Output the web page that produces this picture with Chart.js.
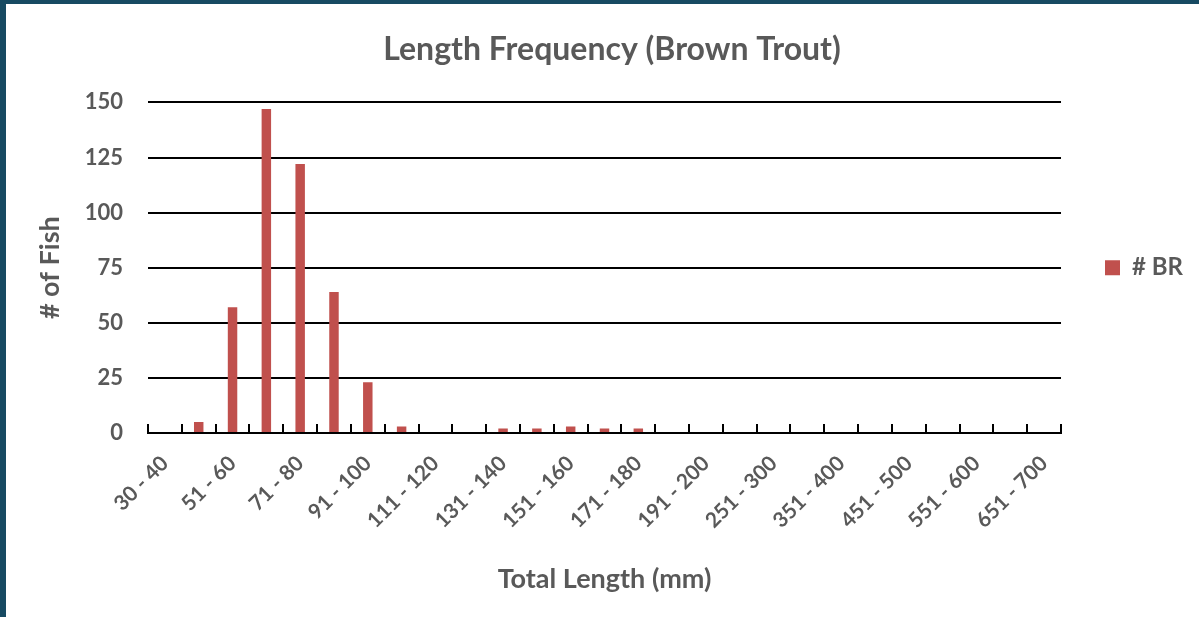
<!DOCTYPE html>
<html>
<head>
<meta charset="utf-8">
<script src="https://cdn.jsdelivr.net/npm/chart.js@4"></script>
<style>
  html, body { margin: 0; padding: 0; background: #174a62; }
  .frame { position: absolute; left: 6px; top: 4px; width: 1193px; height: 613px; background: #fff; }
</style>
</head>
<body>
<div class="frame"><canvas id="lengthChart" width="1193" height="613"></canvas></div>
<script>
// length classes (mm) and counts
const lengthClasses = ['30 - 40', '41 - 50', '51 - 60', '61 - 70', '71 - 80', '81 - 90', '91 - 100',
    '101 - 110', '111 - 120', '121 - 130', '131 - 140', '141 - 150', '151 - 160', '161 - 170',
    '171 - 180', '181 - 190', '191 - 200', '201 - 250', '251 - 300', '301 - 350', '351 - 400',
    '401 - 450', '451 - 500', '501 - 550', '551 - 600', '601 - 650', '651 - 700']
const brownTrout = [0, 5, 57, 147, 122, 64, 23, 3, 0, 0, 2, 2, 3, 2, 2, 0, 0, 0, 0, 0, 0, 0, 0, 0, 0, 0, 0]
const yTicks = [0, 25, 50, 75, 100, 125, 150]

const grey = '#595959'
const fontFam = 'Lato, "Open Sans", sans-serif'

// small tick marks above the x axis at each class boundary
const boundaryTicks = {
    id: 'boundaryTicks',
    afterDatasetsDraw(chart) {
        const x = chart.scales.x
        const ctx = chart.ctx
        const bottom = chart.chartArea.bottom
        const half = (x.getPixelForValue(1) - x.getPixelForValue(0)) / 2
        ctx.save()
        ctx.strokeStyle = '#000'
        ctx.lineWidth = 2
        for (let i = 0; i <= lengthClasses.length; i++) {
            const px = Math.round(x.getPixelForValue(i) - half)
            ctx.beginPath()
            ctx.moveTo(px, bottom - 9)
            ctx.lineTo(px, bottom)
            ctx.stroke()
        }
        ctx.restore()
    }
}

// legend centred on the plot next to it, title a bit right of centre like the original
const legendPlace = {
    id: 'legendPlace',
    afterLayout(chart) {
        const lg = chart.legend
        const w = lg.right - lg.left
        lg.top = chart.chartArea.top
        lg.bottom = chart.chartArea.bottom
        lg.left = 1089
        lg.right = lg.left + w

        const t = chart.titleBlock
        t.left = 0
        t.right = 1212
    }
}

new Chart(document.getElementById('lengthChart'), {
    type: 'bar',
    data: {
        labels: lengthClasses,
        datasets: [{
            label: '# BR',
            data: brownTrout,
            backgroundColor: '#c0504d',
            barPercentage: 0.28,
            categoryPercentage: 1
        }]
    },
    options: {
        responsive: false,
        animation: false,
        layout: { padding: { right: 40, left: 0, top: 0, bottom: 0 } },
        plugins: {
            title: {
                display: true,
                text: 'Length Frequency (Brown Trout)',
                color: grey,
                font: { family: fontFam, size: 32, weight: 'bold' },
                padding: { top: 26, bottom: 34 }
            },
            legend: {
                position: 'right',
                labels: {
                    color: grey,
                    boxWidth: 15,
                    boxHeight: 15,
                    padding: 10,
                    font: { family: fontFam, size: 24, weight: 'bold' }
                }
            },
            tooltip: { enabled: false }
        },
        scales: {
            x: {
                grid: { display: false },
                border: { display: true, color: '#000', width: 2 },
                ticks: {
                    autoSkip: false,
                    maxRotation: 45,
                    minRotation: 45,
                    color: grey,
                    padding: 10,
                    font: { family: fontFam, size: 21, weight: 'bold' },
                    callback: (v, i) => i % 2 === 0 ? lengthClasses[i] : ''
                },
                title: {
                    display: true,
                    text: 'Total Length (mm)',
                    color: grey,
                    font: { family: fontFam, size: 27, weight: 'bold' },
                    padding: { top: 0, bottom: 22 }
                },
                afterFit(scale) { scale.height = 184 }
            },
            y: {
                min: 0,
                max: 150,
                afterBuildTicks(scale) { scale.ticks = yTicks.map(v => ({ value: v })) },
                grid: { color: '#000', lineWidth: 2, drawTicks: false },
                border: { display: false },
                ticks: {
                    color: grey,
                    padding: 25,
                    font: { family: fontFam, size: 22, weight: 'bold' }
                },
                title: {
                    display: true,
                    text: '# of Fish',
                    color: grey,
                    font: { family: fontFam, size: 27, weight: 'bold' },
                    padding: { top: 28, bottom: 0 }
                },
                afterFit(scale) { scale.width = 142 }
            }
        }
    },
    plugins: [boundaryTicks, legendPlace]
})
</script>
</body>
</html>
